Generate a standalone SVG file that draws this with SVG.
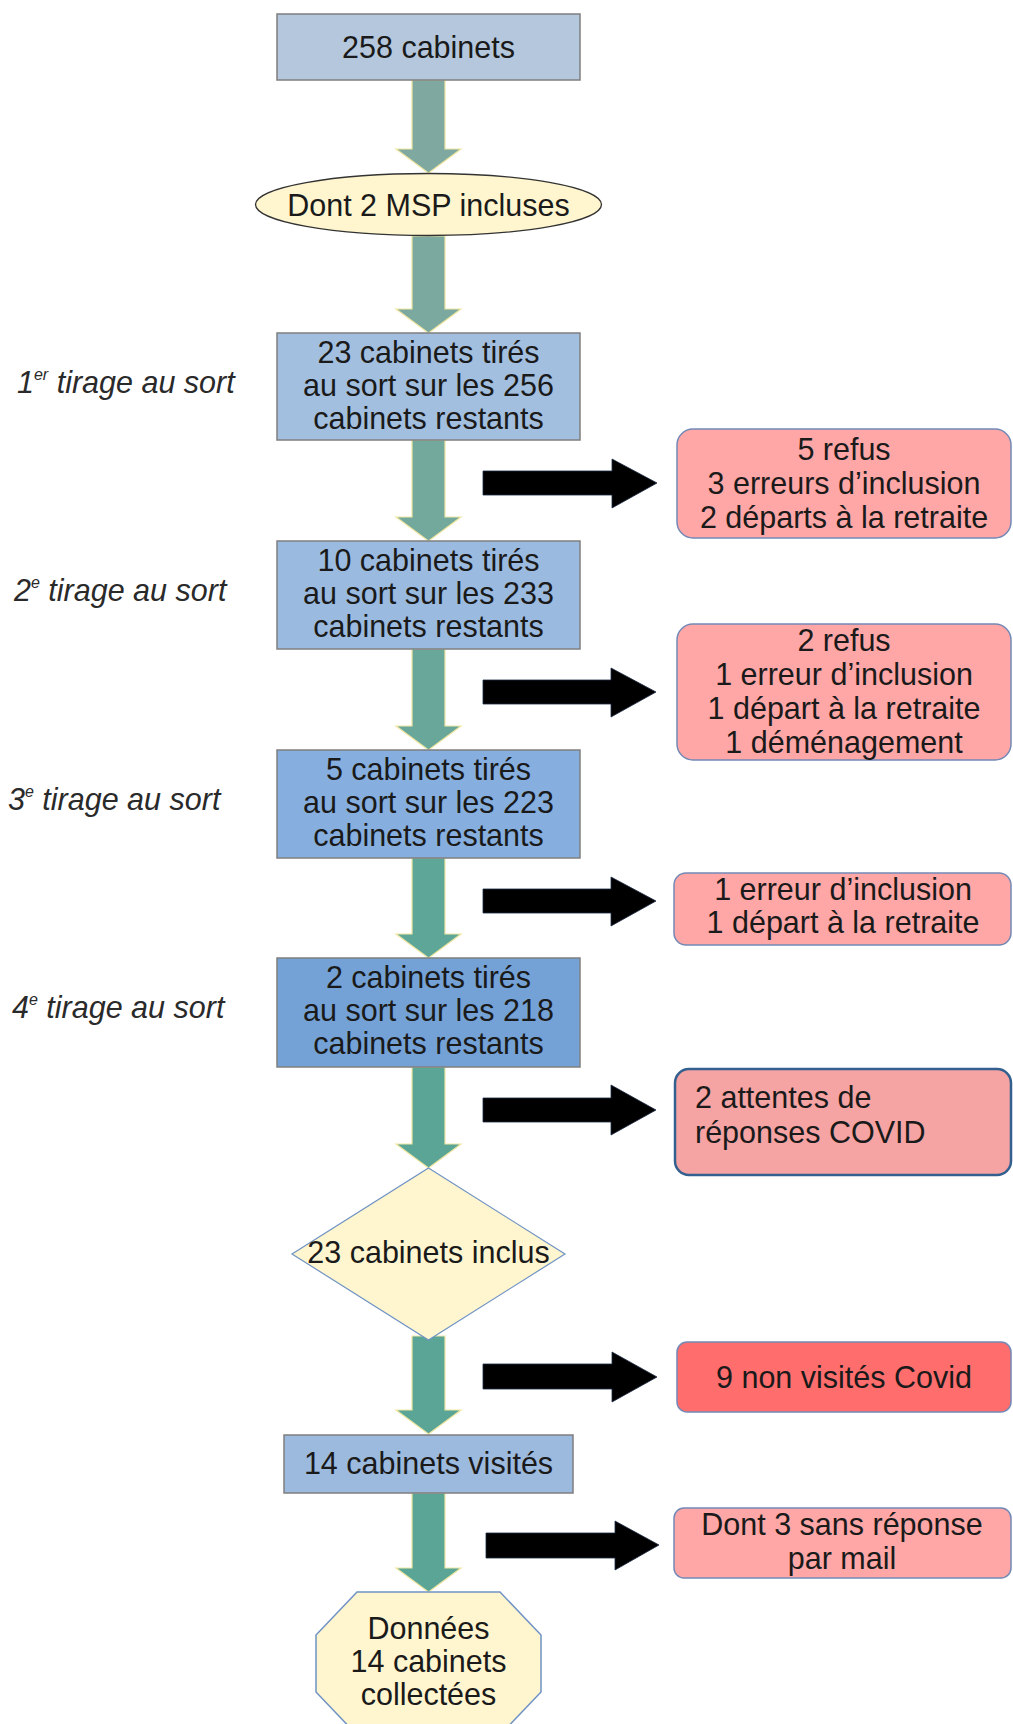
<svg xmlns="http://www.w3.org/2000/svg" width="1013" height="1724" viewBox="0 0 1013 1724">
<style>
text{font-family:"Liberation Sans",Arial,sans-serif;font-size:30.5px;fill:#1a1a1a}
.c{text-anchor:middle}
.lbl{font-style:italic;font-size:30.5px;fill:#2a2a2a}
.sup{font-size:16px}
.box{stroke:#7f7f7f;stroke-width:1.5}
.red{fill:#ffa6a6;stroke:#7489b6;stroke-width:1.5}
.yel{fill:#fff5ce}
.ta{stroke:#efe6a2;stroke-width:1.2}
.ba{fill:#000;stroke:#1d2b44;stroke-width:0.8}
</style>
<g id="connectors">
<path class="ta" fill="#7fa9a0" d="M412,80 H445 V149 H461 L428.5,173 L396,149 H412 Z"/>
<path class="ta" fill="#7ba99f" d="M412,236 H445 V309 H461 L428.5,333 L396,309 H412 Z"/>
<path class="ta" fill="#73a89c" d="M412,440 H445 V517 H461 L428.5,541 L396,517 H412 Z"/>
<path class="ta" fill="#6aa79b" d="M412,649 H445 V726 H461 L428.5,750 L396,726 H412 Z"/>
<path class="ta" fill="#5ea798" d="M412,858 H445 V934 H461 L428.5,958 L396,934 H412 Z"/>
<path class="ta" fill="#5aa596" d="M412,1067 H445 V1144 H461 L428.5,1168 L396,1144 H412 Z"/>
<path class="ta" fill="#5aa596" d="M412,1336 H445 V1410 H461 L428.5,1434 L396,1410 H412 Z"/>
<path class="ta" fill="#5aa596" d="M412,1493 H445 V1568 H461 L428.5,1592 L396,1568 H412 Z"/>
<path class="ba" d="M483,471 H612 V459 L657,483 L612,508 V495 H483 Z"/>
<path class="ba" d="M483,680 H611 V668 L656,692 L611,717 V704 H483 Z"/>
<path class="ba" d="M483,889 H611 V877 L656,901 L611,926 V913 H483 Z"/>
<path class="ba" d="M483,1098 H611 V1085 L656,1110 L611,1135 V1122 H483 Z"/>
<path class="ba" d="M483,1364 H612 V1352 L657,1377 L612,1402 V1389 H483 Z"/>
<path class="ba" d="M486,1533 H615 V1521 L659,1545 L615,1570 V1558 H486 Z"/>
</g>
<g id="n258"><rect class="box" x="277" y="14" width="303" height="66" fill="#b4c7dc"/><text class="c" x="428.5" y="58">258 cabinets</text></g>
<g id="msp"><ellipse cx="428.5" cy="204.5" rx="173" ry="31" class="yel" stroke="#333" stroke-width="1.3"/><text class="c" x="428.5" y="215.5">Dont 2 MSP incluses</text></g>
<g id="l1"><text class="lbl" x="17" y="393">1<tspan class="sup" dy="-13">er</tspan><tspan dy="13"> tirage au sort</tspan></text></g>
<g id="t1"><rect class="box" x="277" y="333" width="303" height="107" fill="#a3bfdf"/><text class="c" x="428.5" y="363">23 cabinets tirés</text><text class="c" x="428.5" y="396">au sort sur les 256</text><text class="c" x="428.5" y="429">cabinets restants</text></g>
<g id="l2"><text class="lbl" x="14" y="601">2<tspan class="sup" dy="-13">e</tspan><tspan dy="13"> tirage au sort</tspan></text></g>
<g id="t2"><rect class="box" x="277" y="541" width="303" height="108" fill="#9bbae0"/><text class="c" x="428.5" y="571">10 cabinets tirés</text><text class="c" x="428.5" y="604">au sort sur les 233</text><text class="c" x="428.5" y="637">cabinets restants</text></g>
<g id="l3"><text class="lbl" x="8" y="810">3<tspan class="sup" dy="-13">e</tspan><tspan dy="13"> tirage au sort</tspan></text></g>
<g id="t3"><rect class="box" x="277" y="750" width="303" height="108" fill="#86afdf"/><text class="c" x="428.5" y="780">5 cabinets tirés</text><text class="c" x="428.5" y="813">au sort sur les 223</text><text class="c" x="428.5" y="846">cabinets restants</text></g>
<g id="l4"><text class="lbl" x="12" y="1018">4<tspan class="sup" dy="-13">e</tspan><tspan dy="13"> tirage au sort</tspan></text></g>
<g id="t4"><rect class="box" x="277" y="958" width="303" height="109" fill="#74a2d7"/><text class="c" x="428.5" y="988">2 cabinets tirés</text><text class="c" x="428.5" y="1021">au sort sur les 218</text><text class="c" x="428.5" y="1054">cabinets restants</text></g>
<g id="r1"><rect class="red" x="677" y="429" width="334" height="109" rx="16"/><text class="c" x="844" y="460">5 refus</text><text class="c" x="844" y="494">3 erreurs d’inclusion</text><text class="c" x="844" y="528">2 départs à la retraite</text></g>
<g id="r2"><rect class="red" x="677" y="624" width="334" height="136" rx="16"/><text class="c" x="844" y="651">2 refus</text><text class="c" x="844" y="685">1 erreur d’inclusion</text><text class="c" x="844" y="719">1 départ à la retraite</text><text class="c" x="844" y="753">1 déménagement</text></g>
<g id="r3"><rect class="red" x="674" y="873" width="337" height="72" rx="12"/><text class="c" x="843" y="900">1 erreur d’inclusion</text><text class="c" x="843" y="933">1 départ à la retraite</text></g>
<g id="r4"><rect x="675" y="1069" width="336" height="106" rx="14" fill="#f5a3a3" stroke="#34608f" stroke-width="2.5"/><text x="695" y="1108">2 attentes de</text><text x="695" y="1143">réponses COVID</text></g>
<g id="incl"><polygon points="428.5,1168 565,1254 428.5,1340 292,1254" class="yel" stroke="#6f93c4" stroke-width="1.2"/><text class="c" x="428.5" y="1263">23 cabinets inclus</text></g>
<g id="r5"><rect x="677" y="1342" width="334" height="70" rx="10" fill="#ff6d6d" stroke="#7489b6" stroke-width="1.5"/><text class="c" x="844" y="1388">9 non visités Covid</text></g>
<g id="vis"><rect class="box" x="284" y="1435" width="289" height="58" fill="#9cb9de"/><text class="c" x="428.5" y="1474">14 cabinets visités</text></g>
<g id="r6"><rect class="red" x="674" y="1508" width="337" height="70" rx="10"/><text class="c" x="842" y="1535">Dont 3 sans réponse</text><text class="c" x="842" y="1569">par mail</text></g>
<g id="data"><polygon points="357,1592 500,1592 541,1635 541,1692 500,1735 357,1735 316,1692 316,1635" class="yel" stroke="#6f93c4" stroke-width="1.5"/><text class="c" x="428.5" y="1639">Données</text><text class="c" x="428.5" y="1672">14 cabinets</text><text class="c" x="428.5" y="1705">collectées</text></g>
</svg>
